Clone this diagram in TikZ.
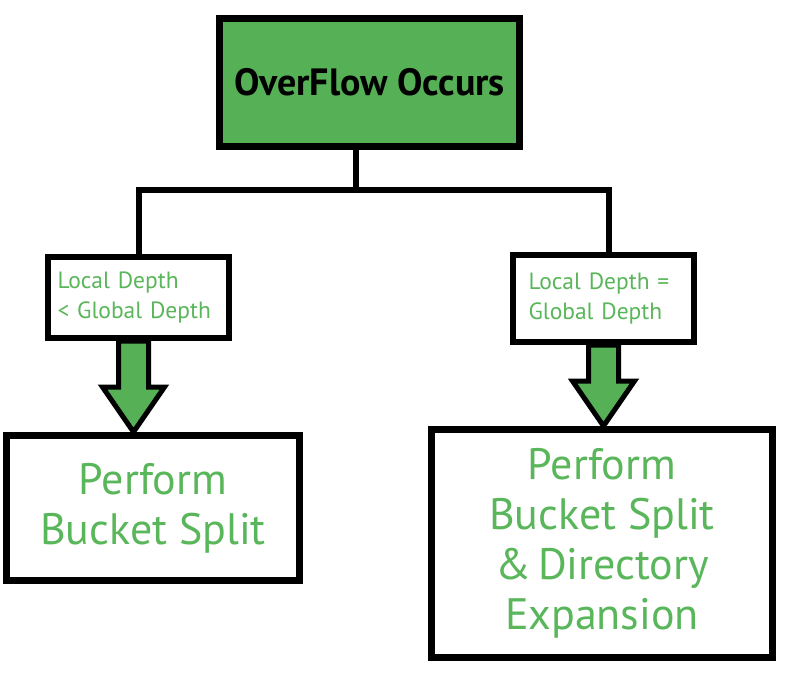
\documentclass[tikz,border=0pt]{standalone}
\usepackage{fontspec}
\setmainfont{PT Sans}
\usepackage{xcolor}
\usetikzlibrary{calc}
\definecolor{boxgreen}{RGB}{86,176,86}
\definecolor{textgreen}{RGB}{90,182,90}
\tikzstyle{conn} = [line width=6pt]
\tikzstyle{bigarrow} = [draw=black,line width=5pt,fill=boxgreen,
    to path={let \p1=(\tikztostart), \p2=(\tikztotarget) in
        (\x1-15pt,\y1) -- (\x1-15pt,\y2+45pt) -- (\x1-31pt,\y2+45pt) -- (\x1,\y2)
        -- (\x1+31pt,\y2+45pt) -- (\x1+15pt,\y2+45pt) -- (\x1+15pt,\y1) -- cycle}]

\begin{document}
\begin{tikzpicture}
        [
            x=1pt,y=-1pt,
            topbox/.style={rectangle,draw=black,line width=7pt,fill=boxgreen,inner sep=0pt,
                font=\fontsize{38}{46}\selectfont\bfseries},
            condbox/.style={rectangle,draw=black,line width=6pt,fill=white,minimum width=181pt,
                text=textgreen,text width=162pt,inner xsep=3pt,align=left,
                font=\fontsize{23.5}{30}\selectfont},
            resbox/.style={rectangle,draw=black,line width=7pt,fill=white,text=textgreen,
                align=center,font=\fontsize{44}{50}\selectfont},
        ]
    \fill[white] (0,0) rectangle (789,675);

    % boxes
    \node[topbox,minimum width=300pt,minimum height=128pt] (top) at (369.5,82.5) {OverFlow Occurs};
    \node[condbox,minimum height=81pt] (lc) at (138.5,297.5) {Local Depth\\< Global Depth};
    \node[condbox,minimum height=87pt] (rc) at (603.5,298.5) {\hspace*{6pt}Local Depth =\\\hspace*{6pt}Global Depth};
    \node[resbox,minimum width=293pt,minimum height=145pt] (lr) at (153,508) {Perform\\Bucket Split};
    \node[resbox,minimum width=341pt,minimum height=228pt] (rr) at (602,543.5)
        {Perform\\Bucket Split\\\&\,Directory\\Expansion};

    % connectors
    \draw[conn] ([xshift=-14pt]top.south) -- ++(0,40) -| (lc.north);
    \draw[conn] ([xshift=-14pt]top.south) -- ++(0,40) -| ([xshift=5pt]rc.north);

    \draw[bigarrow] ([xshift=-5pt]lc.south) to (lr.north);
    \draw[bigarrow] (rc.south) to (rr.north);
\end{tikzpicture}
\end{document}
